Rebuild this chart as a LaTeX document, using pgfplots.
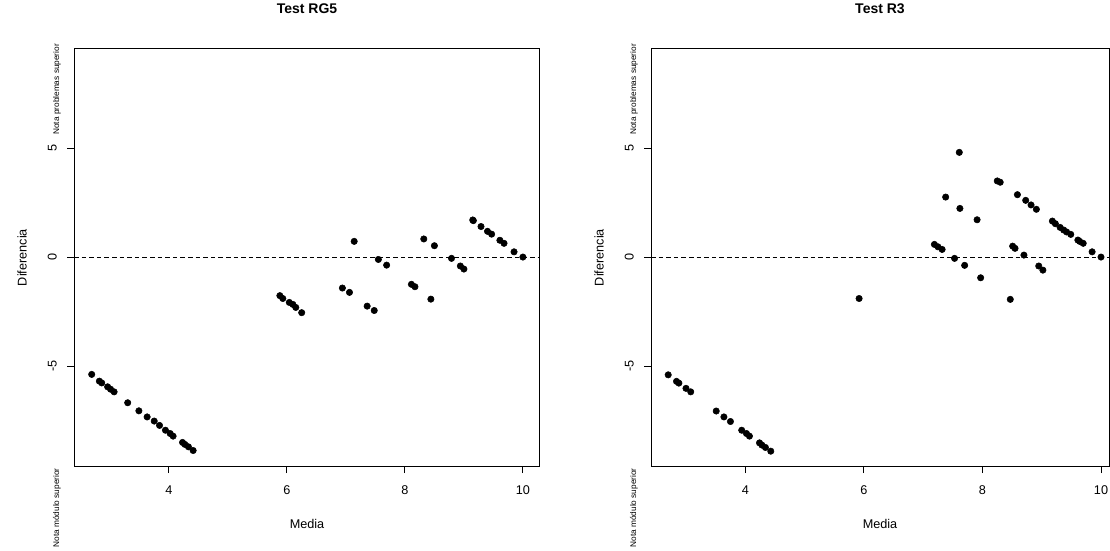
\documentclass[border=0pt]{standalone}
\usepackage{pgfplots}
\pgfplotsset{compat=1.18}
\usepackage{fontspec}
\setmainfont{Liberation Sans}
\begin{document}
\begin{tikzpicture}
\useasboundingbox (0,0) rectangle (832.5pt,412.5pt);
\pgfplotsset{
  bland/.style={
    scale only axis,
    height=312.75pt,
    ymin=-9.58, ymax=9.54,
    axis line style={line width=0.75pt},
    every tick/.style={black, line width=0.75pt},
    tick align=outside,
    major tick length=5.25pt,
    xtick={4,6,8,10}, ytick={-5,0,5},
    xtick pos=bottom, ytick pos=left,
    /pgf/number format/assume math mode=true,
    tick label style={font=\fontsize{9.5}{11}\selectfont},
    xticklabel style={anchor=center, yshift=-13pt},
    yticklabel style={rotate=90, anchor=center, yshift=11pt},
    label style={font=\fontsize{9.5}{11}\selectfont},
    xlabel={Media}, ylabel={Diferencia},
    xlabel style={at={(axis description cs:0.5,0)}, anchor=center, yshift=-43.5pt},
    ylabel style={at={(axis description cs:0,0.5)}, anchor=center, rotate=0, yshift=39pt},
    title style={font=\bfseries\fontsize{10.5}{12}\selectfont, at={(axis description cs:0.5,1)}, anchor=center, yshift=24pt},
    clip=false,
  },
  pts/.style={only marks, mark=*, mark size=2.4pt, black, mark options={draw=black, fill=black}},
}
\begin{axis}[bland, at={(55.5pt,63pt)}, anchor=south west, width=349.5pt,
  xmin=2.39, xmax=10.29, title={Test RG5}]
\addplot[pts] table {
x y
2.69 -5.38
2.82 -5.69
2.86 -5.77
2.96 -5.95
3.01 -6.06
3.07 -6.18
3.30 -6.68
3.49 -7.05
3.63 -7.33
3.75 -7.52
3.84 -7.72
3.94 -7.94
4.02 -8.09
4.07 -8.21
4.23 -8.50
4.27 -8.59
4.33 -8.70
4.41 -8.87
5.88 -1.77
5.93 -1.90
6.04 -2.08
6.10 -2.17
6.15 -2.31
6.25 -2.55
6.94 -1.42
7.06 -1.62
7.14 0.72
7.36 -2.25
7.48 -2.45
7.55 -0.11
7.69 -0.37
8.11 -1.25
8.17 -1.36
8.32 0.83
8.44 -1.93
8.50 0.52
8.79 -0.06
8.94 -0.41
9.00 -0.55
9.15 1.70
9.16 1.67
9.29 1.40
9.40 1.18
9.47 1.05
9.61 0.77
9.68 0.63
9.85 0.24
10.00 0.00
};
\draw[black, line width=0.75pt, dash pattern=on 3.4pt off 2.3pt] (axis cs:2.39,0) -- (axis cs:10.29,0);
\node[rotate=90, anchor=west, inner sep=0pt, font=\fontsize{6.2}{7}\selectfont] at (rel axis cs:-0.0365,0.794) {Nota problemas superior};
\node[rotate=90, anchor=east, inner sep=0pt, font=\fontsize{6.2}{7}\selectfont] at (rel axis cs:-0.0365,-0.005) {Nota módulo superior};
\end{axis}
\begin{axis}[bland, at={(488.25pt,63pt)}, anchor=south west, width=343.5pt,
  xmin=2.41, xmax=10.135, title={Test R3}]
\addplot[pts] table {
x y
2.70 -5.40
2.84 -5.70
2.88 -5.78
3.00 -6.02
3.08 -6.18
3.51 -7.06
3.64 -7.33
3.75 -7.54
3.94 -7.94
4.02 -8.09
4.07 -8.21
4.24 -8.52
4.28 -8.62
4.34 -8.73
4.43 -8.90
5.92 -1.90
7.19 0.58
7.25 0.47
7.32 0.35
7.38 2.75
7.53 -0.06
7.61 4.80
7.62 2.23
7.70 -0.38
7.91 1.71
7.97 -0.95
8.25 3.49
8.30 3.43
8.47 -1.94
8.51 0.50
8.55 0.40
8.59 2.86
8.70 0.09
8.73 2.60
8.82 2.39
8.91 2.19
8.95 -0.41
9.02 -0.60
9.18 1.65
9.23 1.53
9.31 1.36
9.37 1.24
9.42 1.15
9.49 1.04
9.61 0.78
9.64 0.72
9.70 0.63
9.85 0.24
10.00 0.00
};
\draw[black, line width=0.75pt, dash pattern=on 3.4pt off 2.3pt] (axis cs:2.41,0) -- (axis cs:10.135,0);
\node[rotate=90, anchor=west, inner sep=0pt, font=\fontsize{6.2}{7}\selectfont] at (rel axis cs:-0.037,0.794) {Nota problemas superior};
\node[rotate=90, anchor=east, inner sep=0pt, font=\fontsize{6.2}{7}\selectfont] at (rel axis cs:-0.037,-0.005) {Nota módulo superior};
\end{axis}
\end{tikzpicture}
\end{document}
